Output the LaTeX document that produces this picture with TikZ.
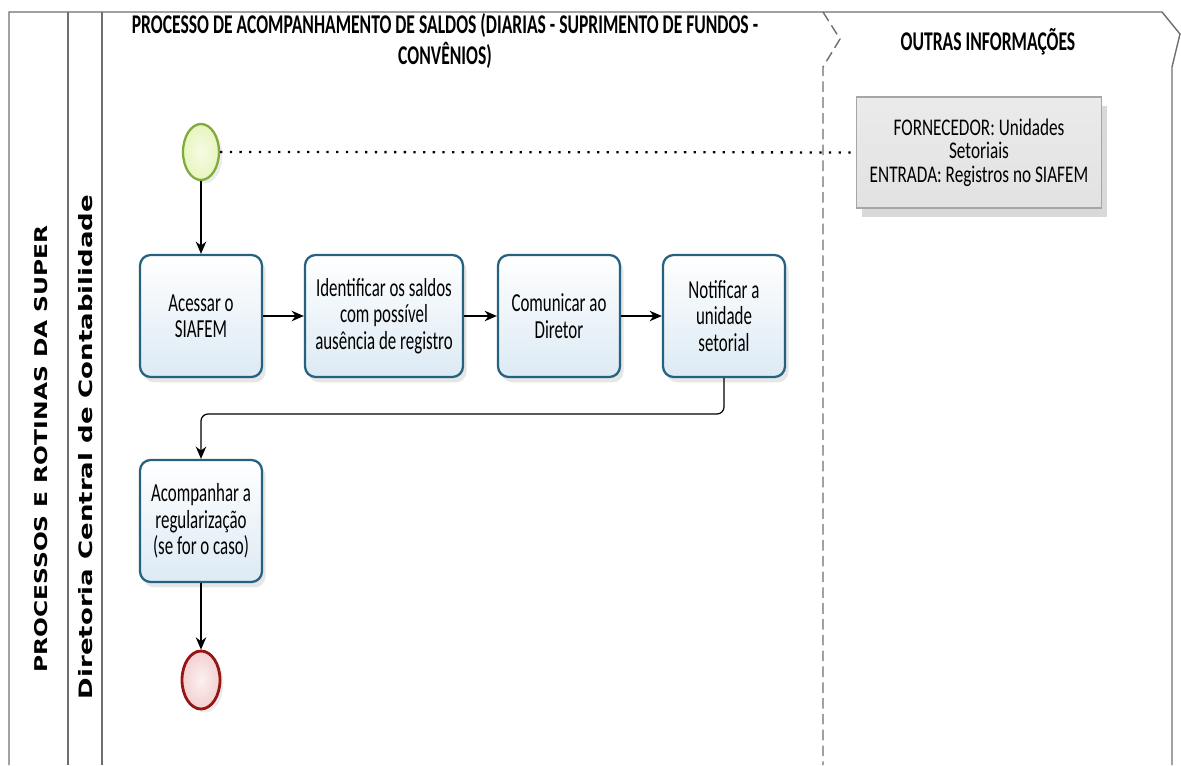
\documentclass[tikz,border=0pt]{standalone}
\usepackage{fontspec}
\usepackage{tikz}
\usetikzlibrary{positioning,shadows,arrows.meta,shapes.geometric}
\newfontfamily\condfont[FakeStretch=0.65]{Carlito}
\newfontfamily\notefont[FakeStretch=0.72]{Carlito}
\newfontfamily\poolfont[FakeStretch=1.33]{DejaVu Sans}
\newfontfamily\lanefont[FakeStretch=1.41]{DejaVu Sans}
\definecolor{frameline}{RGB}{110,110,110}
\definecolor{taskline}{RGB}{38,98,128}
\definecolor{taskfill}{RGB}{220,234,244}
\definecolor{startline}{RGB}{128,170,60}
\definecolor{startfill}{RGB}{232,245,190}
\definecolor{endline}{RGB}{150,22,22}
\definecolor{endfill}{RGB}{244,208,208}
\definecolor{notefill}{RGB}{226,226,226}

\tikzset{
  task/.style={draw=taskline, line width=1.3pt, rounded corners=6pt,
    top color=white, bottom color=taskfill,
    drop shadow={opacity=0.2, shadow xshift=2pt, shadow yshift=-3pt},
    minimum width=2.44cm, minimum height=2.44cm, align=center,
    font=\condfont\fontsize{14.8}{15}\selectfont},
  flow/.style={-{Stealth[length=7pt,width=6pt]}, line width=0.7pt},
  lane/.style={frameline, line width=0.8pt},
  heading/.style={font=\condfont\bfseries\fontsize{15.4}{17.6}\selectfont, align=center},
}

\begin{document}
\begin{tikzpicture}[x=0.02cm, y=-0.02cm]
\useasboundingbox (0,0) rectangle (1181,765);
\draw[lane] (9,765) -- (9,12) -- (1162,12) -- (1180,34) -- (1172,67) -- (1172,765);
\draw[lane] (68,12) -- (68,765);
\draw[lane] (102,12) -- (102,765);
\draw[lane, dashed, dash pattern=on 6pt off 3pt] (823,12) -- (840,39) -- (823,67) -- (823,765);

\node[heading] (title) at (445,41) {PROCESSO DE ACOMPANHAMENTO DE SALDOS (DIARIAS - SUPRIMENTO DE FUNDOS -\\CONVÊNIOS)};
\node[heading] (other) at (988,42) {OUTRAS INFORMAÇÕES};
\node[rotate=90, font=\poolfont\bfseries\fontsize{10}{12}\selectfont] (pool) at (41,449) {PROCESSOS E ROTINAS DA SUPER};
\node[rotate=90, font=\lanefont\bfseries\fontsize{10.5}{12}\selectfont] (dcc) at (86,447) {Diretoria Central de Contabilidade};

\node[ellipse, draw=startline, line width=1.3pt, inner color=startfill!40!white, outer color=startfill,
  minimum width=0.72cm, minimum height=1.12cm,
  drop shadow={opacity=0.15, shadow xshift=2pt, shadow yshift=-2pt}] (start) at (201,152) {};
\node[draw=gray!70, line width=0.6pt, top color=white!92!black, bottom color=notefill,
  minimum width=4.9cm, minimum height=2.22cm, align=center,
  font=\notefont\fontsize{13.6}{13.4}\selectfont,
  drop shadow={opacity=0.3, shadow xshift=3pt, shadow yshift=-5pt}] (note) at (979,152.5)
  {FORNECEDOR: Unidades\\Setoriais\\ENTRADA: Registros no SIAFEM};

\node[task] (acessar) at (201,316) {Acessar o\\SIAFEM};
\node[task, minimum width=3.16cm] (identificar) at (384,316) {Identificar os saldos\\com possível\\ausência de registro};
\node[task] (comunicar) at (559,316) {Comunicar ao\\Diretor};
\node[task] (notificar) at (724,316) {Notificar a\\unidade\\setorial};
\node[task] (acompanhar) at (201,521) {Acompanhar a\\regularização\\(se for o caso)};

\node[ellipse, draw=endline, line width=1.6pt, inner color=endfill!30!white, outer color=endfill,
  minimum width=0.76cm, minimum height=1.16cm,
  drop shadow={opacity=0.15, shadow xshift=2pt, shadow yshift=-2pt}] (end) at (201,680) {};

\draw[line width=1.3pt, dash pattern=on 1.3pt off 4.2pt] (start) -- (note);
\draw[flow] (start) -- (acessar);
\draw[flow] (acessar) -- (identificar);
\draw[flow] (identificar) -- (comunicar);
\draw[flow] (comunicar) -- (notificar);
\draw[flow, rounded corners=4pt] (notificar.south) -- (724,414) -- (201,414) -- (acompanhar.north);
\draw[flow] (acompanhar) -- (end);
\end{tikzpicture}
\end{document}
